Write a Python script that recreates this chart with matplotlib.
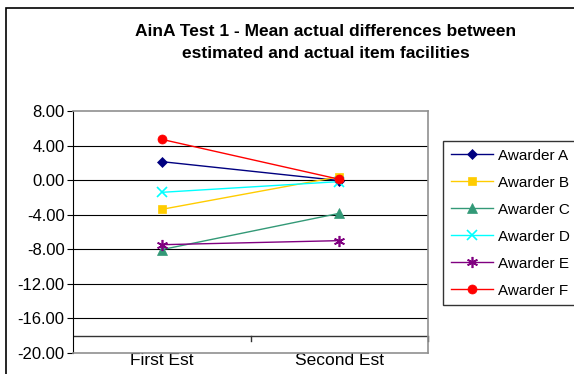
import matplotlib.pyplot as plt
from matplotlib.patches import Rectangle

plt.rcParams['font.family'] = ['Liberation Sans', 'DejaVu Sans']

categories = ['First Est', 'Second Est']
awarders = ['Awarder A', 'Awarder B', 'Awarder C', 'Awarder D', 'Awarder E', 'Awarder F']
awarder_a = [2.14, -0.05]
awarder_b = [-3.38, 0.40]
awarder_c = [-8.04, -3.84]
awarder_d = [-1.41, -0.17]
awarder_e = [-7.47, -7.00]
awarder_f = [4.72, 0.10]
yticks = [8, 4, 0, -4, -8, -12, -16, -20]

series = [awarder_a, awarder_b, awarder_c, awarder_d, awarder_e, awarder_f]
colors = ['#000080', '#FFCC00', '#339977', '#00FFFF', '#800080', '#FF0000']
markers = ['D', 's', '^', 'x', (6, 2, 0), 'o']
msizes = [5.5, 6, 7, 7, 8, 6.5]

fig = plt.figure(figsize=(5.74, 3.74), dpi=100)
# outer chart frame
fig.patches.append(Rectangle((6 / 574, -0.1), 1.2, 1 - 8 / 374 + 0.1, transform=fig.transFigure,
                             fill=False, edgecolor='black', linewidth=1.2))

ax = fig.add_axes([73 / 574, 1 - 353 / 374, 355 / 574, 242 / 374])
x = list(range(len(categories)))
for vals, name, c, m, ms in zip(series, awarders, colors, markers, msizes):
    ax.plot(x, vals, color=c, marker=m, markersize=ms, linewidth=1.0,
            markeredgewidth=1.2 if m in ('x', (6, 2, 0)) else 0.5, label=name, zorder=3)

ax.set_xlim(-0.5, 1.5)
ax.set_ylim(-20, 8)
ax.set_yticks(yticks)
ax.set_yticklabels(['%.2f' % v for v in yticks], fontsize=12)
ax.set_xticks(x)
ax.set_xticklabels(categories, fontsize=12.5)
ax.tick_params(axis='x', length=0, pad=0)
ax.tick_params(axis='y', length=4, width=0.8, pad=2)
for v in yticks[1:-1]:
    ax.axhline(v, color='black', linewidth=0.8, zorder=1)
# category axis crossing at -18
ax.axhline(-18, color='#333333', linewidth=1.0, zorder=2)
for xv in (0.5, 1.5):
    ax.plot([xv, xv], [-18, -18.6], color='#333333', linewidth=1.0, clip_on=False)

ax.spines['left'].set_color('black')
for s in ('top', 'right', 'bottom'):
    ax.spines[s].set_color('#909090')
    ax.spines[s].set_linewidth(1.2)

fig.text(326 / 574, 1 - 31 / 374, 'AinA Test 1 - Mean actual differences between',
         ha='center', va='center', fontsize=12.5, fontweight='bold')
fig.text(326 / 574, 1 - 53 / 374, 'estimated and actual item facilities',
         ha='center', va='center', fontsize=12.5, fontweight='bold')

leg = fig.legend(loc='upper left', bbox_to_anchor=(443 / 574, 1 - 141 / 374), fontsize=11,
                 frameon=True, fancybox=False, edgecolor='black', borderpad=0.5,
                 labelspacing=0.85, handlelength=2.8, handletextpad=0.3, borderaxespad=0)
leg.get_frame().set_linewidth(1.0)

fig.savefig('out.png', dpi=100)
